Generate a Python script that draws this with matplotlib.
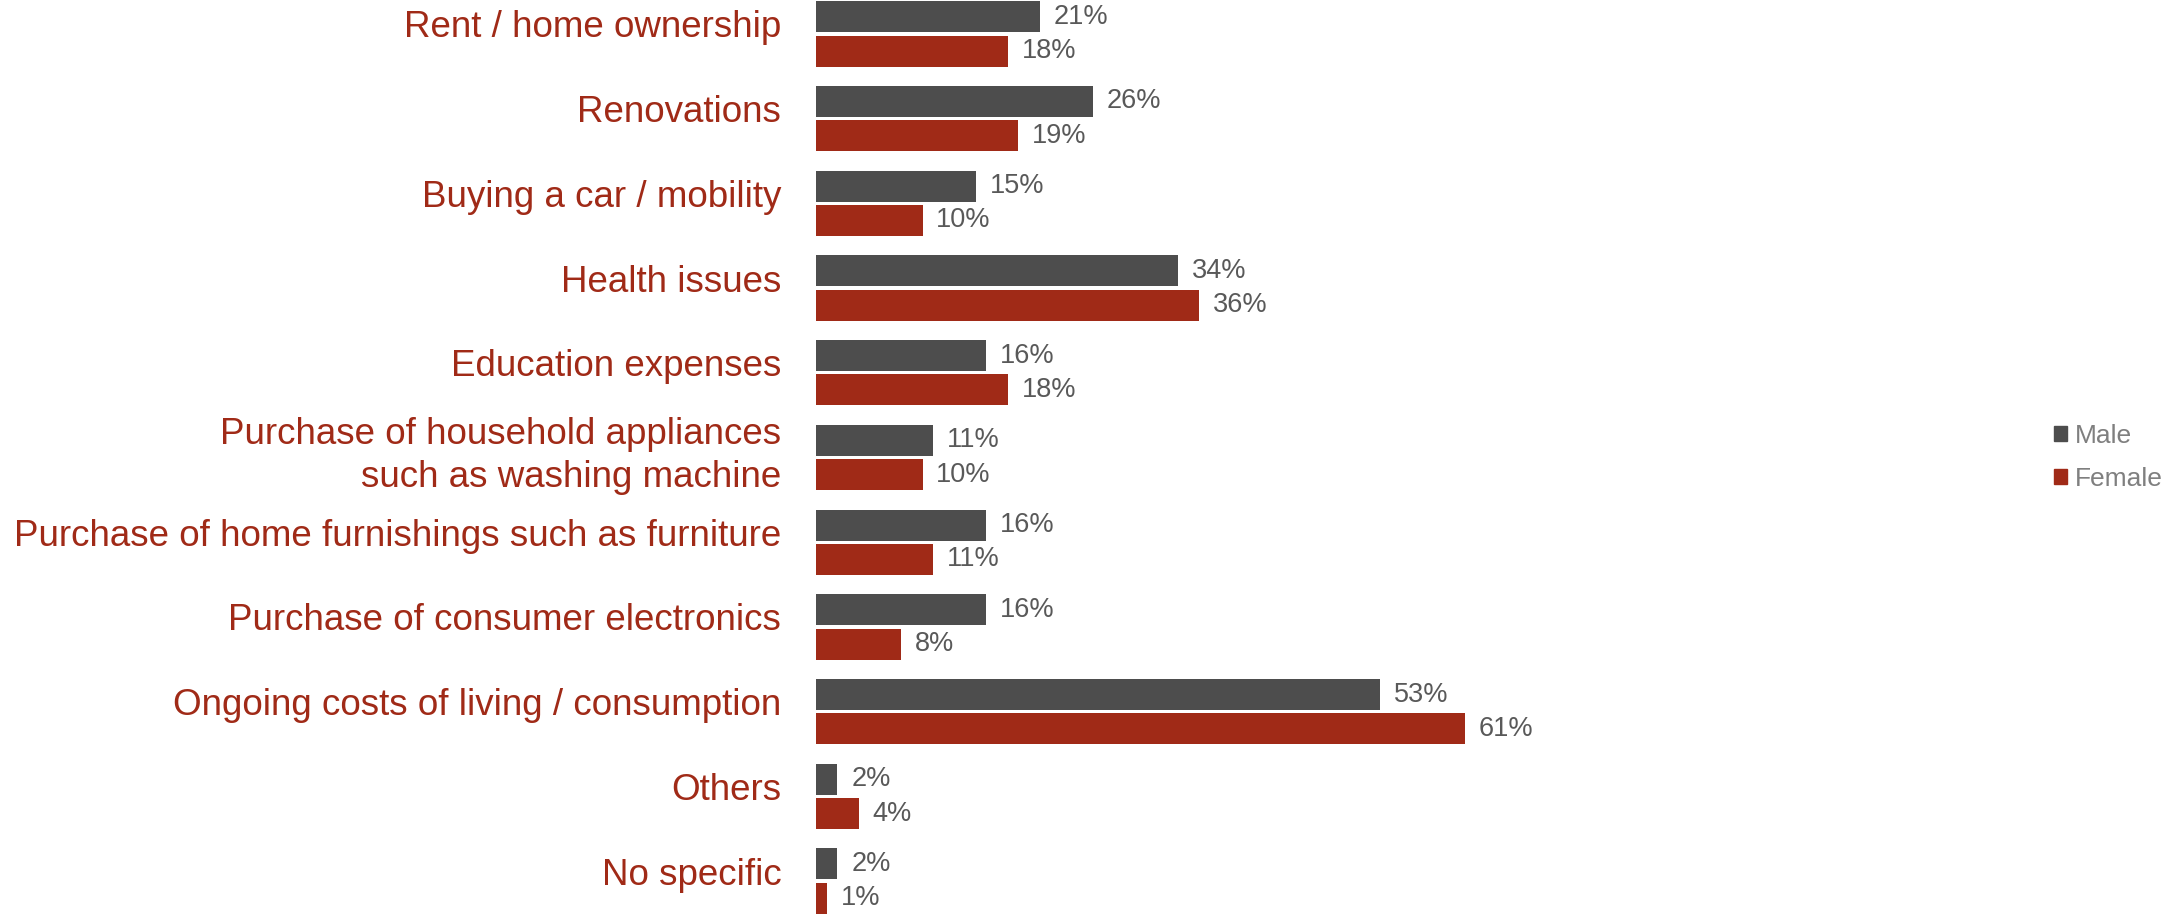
import numpy as np
import matplotlib.pyplot as plt
import matplotlib.transforms as mtransforms
from matplotlib.patches import Patch

plt.rcParams['font.family'] = ['Liberation Sans', 'DejaVu Sans']

categories = ['Rent / home ownership', 'Renovations', 'Buying a car / mobility',
              'Health issues', 'Education expenses',
              'Purchase of household appliances\nsuch as washing machine',
              'Purchase of home furnishings such as furniture',
              'Purchase of consumer electronics',
              'Ongoing costs of living / consumption', 'Others', 'No specific']
male = [21, 26, 15, 34, 16, 11, 16, 16, 53, 2, 2]
female = [18, 19, 10, 36, 18, 10, 11, 8, 61, 4, 1]

male_col = '#4d4d4d'
female_col = '#a02a17'

fig = plt.figure(figsize=(21.67, 9.15), dpi=100)
ax = fig.add_axes([0.3766, 0.0, 0.55, 1.0])

y = np.arange(len(categories))
h = 0.365
ax.barh(y - h/2 - 0.02, male, height=h, color=male_col)
ax.barh(y + h/2 + 0.02, female, height=h, color=female_col)

for i in range(len(categories)):
    ax.text(male[i] + 1.3, y[i] - h/2 - 0.02, f'{male[i]}%', va='center', ha='left',
            fontsize=19.5, color='#595959')
    ax.text(female[i] + 1.3, y[i] + h/2 + 0.02, f'{female[i]}%', va='center', ha='left',
            fontsize=19.5, color='#595959')

ax.set_yticks(y)
ax.set_yticklabels(categories, fontsize=26.5, color=female_col, ha='right', linespacing=1.3)
ax.tick_params(axis='y', length=0, pad=25)
# labels sit a bit above the group centre in the original
shift = mtransforms.ScaledTranslation(0, 0.1, fig.dpi_scale_trans)
for lab in ax.get_yticklabels():
    lab.set_transform(lab.get_transform() + shift)
ax.set_xticks([])
ax.set_xlim(0, 112)
ax.set_ylim(len(categories) - 1 + 0.4, -0.4)
for s in ax.spines.values():
    s.set_visible(False)

handles = [Patch(color=male_col, label='Male'), Patch(color=female_col, label='Female')]
fig.legend(handles=handles, loc='center left', bbox_to_anchor=(0.937, 0.5), frameon=False,
           fontsize=19, labelcolor='#7f7f7f', handlelength=0.5, handleheight=0.5,
           handletextpad=0.3, labelspacing=0.7)

fig.savefig('out.png')
